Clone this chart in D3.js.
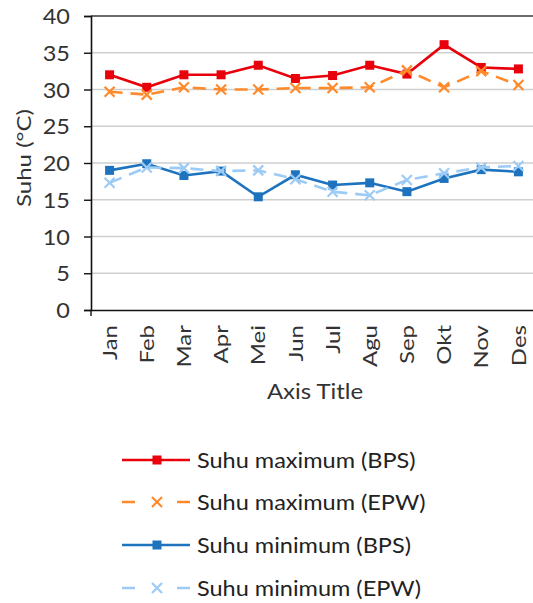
<!DOCTYPE html>
<html>
<head>
<meta charset="utf-8">
<script src="https://cdn.jsdelivr.net/npm/d3@7"></script>
<style>
  body { margin: 0; background: #fff; }
  svg { font-family: Lato, "Open Sans", sans-serif; }
</style>
</head>
<body>
<svg id="chart" width="533" height="603"></svg>
<script>
const months = ['Jan', 'Feb', 'Mar', 'Apr', 'Mei', 'Jun', 'Jul', 'Agu', 'Sep', 'Okt', 'Nov', 'Des']
const maxBps = [32.0, 30.3, 32.0, 32.0, 33.3, 31.5, 31.9, 33.3, 32.1, 36.1, 33.0, 32.8]
const maxEpw = [29.7, 29.3, 30.3, 30.0, 30.0, 30.2, 30.2, 30.3, 32.6, 30.3, 32.5, 30.6]
const minBps = [19.0, 19.9, 18.3, 18.9, 15.4, 18.4, 17.0, 17.3, 16.1, 17.9, 19.1, 18.8]
const minEpw = [17.3, 19.4, 19.3, 18.9, 19.0, 17.8, 16.1, 15.6, 17.7, 18.6, 19.4, 19.6]
const yTicks = [0, 5, 10, 15, 20, 25, 30, 35, 40]

const series = [
  { name: 'Suhu maximum (BPS)', values: maxBps, color: '#e8000b', dash: null, marker: 'square' },
  { name: 'Suhu maximum (EPW)', values: maxEpw, color: '#ff8a2b', dash: '13,8', marker: 'x' },
  { name: 'Suhu minimum (BPS)', values: minBps, color: '#1e73be', dash: null, marker: 'square' },
  { name: 'Suhu minimum (EPW)', values: minEpw, color: '#9ccbf5', dash: '13,8', marker: 'x' }
]

let svg = d3.select('#chart')
let x = d3.scaleBand().domain(months).range([91, 537])
let y = d3.scaleLinear().domain([0, 40]).range([310, 16])
let cx = d => x(d) + x.bandwidth() / 2

// gridlines
svg.append('g').selectAll('line').data(yTicks.filter(t => t > 0))
  .enter().append('line')
  .attr('x1', 91).attr('x2', 537)
  .attr('y1', d => y(d)).attr('y2', d => y(d))
  .attr('stroke', d => d === 40 ? '#3a3a3a' : '#cfcfcf')
  .attr('stroke-width', d => d === 40 ? 1.5 : 1.3)

// y axis
let yAxis = svg.append('g')
  .attr('transform', 'translate(91,0)')
  .call(d3.axisLeft(y).tickValues(yTicks).tickSize(7))
yAxis.select('.domain').attr('stroke', '#111').attr('stroke-width', 1.6)
yAxis.selectAll('.tick line').attr('stroke', '#111').attr('stroke-width', 1.4)
yAxis.selectAll('text')
  .attr('font-size', 21).attr('fill', '#333').attr('font-family', 'Lato')
  .attr('x', 0).attr('dy', '0.36em')
  .attr('transform', 'translate(-21,0) scale(1.12,1)')

// x axis
let xAxis = svg.append('g')
  .attr('transform', 'translate(0,310)')
  .call(d3.axisBottom(x).tickSize(0))
xAxis.select('.domain').attr('stroke', '#111').attr('stroke-width', 1.6)
xAxis.selectAll('text')
  .attr('font-size', 20).attr('fill', '#333').attr('font-family', 'Lato')
  .attr('text-anchor', 'end')
  .attr('x', 0).attr('y', 0).attr('dx', 0).attr('dy', '0.36em')
  .attr('transform', 'translate(0,15) rotate(-90) scale(1.2,1)')
svg.append('line').attr('x1', 91).attr('x2', 91).attr('y1', 310).attr('y2', 316)
  .attr('stroke', '#111').attr('stroke-width', 1.4)

// titles
svg.append('text').text('Axis Title')
  .attr('transform', 'translate(315,399) scale(1.14,1)').attr('text-anchor', 'middle')
  .attr('font-size', 21).attr('fill', '#333')
svg.append('text').text('Suhu (°C)')
  .attr('transform', 'translate(31,158) rotate(-90) scale(1.2,1)').attr('text-anchor', 'middle')
  .attr('font-size', 20).attr('fill', '#333')

let line = d3.line().x((d, i) => cx(months[i])).y(d => y(d))

function drawMarker (g, type, color, px, py) {
  if (type === 'square') {
    g.append('rect').attr('x', px - 4.5).attr('y', py - 4.5)
      .attr('width', 9).attr('height', 9).attr('fill', color)
  } else {
    let s = 5
    g.append('path')
      .attr('d', `M${px - s},${py - s}L${px + s},${py + s}M${px - s},${py + s}L${px + s},${py - s}`)
      .attr('stroke', color).attr('stroke-width', 2.2).attr('fill', 'none')
  }
}

series.forEach(s => {
  let g = svg.append('g')
  g.append('path').datum(s.values)
    .attr('d', line)
    .attr('fill', 'none')
    .attr('stroke', s.color)
    .attr('stroke-width', 2.6)
    .attr('stroke-dasharray', s.dash)
  s.values.forEach((v, i) => drawMarker(g, s.marker, s.color, cx(months[i]), y(v)))
})

// legend
let legendY = [460, 502, 545, 588]
series.forEach((s, i) => {
  let g = svg.append('g')
  let ly = legendY[i]
  g.append('line').attr('x1', 122).attr('x2', 190).attr('y1', ly).attr('y2', ly)
    .attr('stroke', s.color).attr('stroke-width', 2.6)
    .attr('stroke-dasharray', s.dash ? '13,42' : null)
  drawMarker(g, s.marker, s.color, 157, ly)
  g.append('text').text(s.name)
    .attr('transform', `translate(197,${ly}) scale(1.12,1)`).attr('dy', '0.36em')
    .attr('font-size', 21).attr('fill', '#222')
})
</script>
</body>
</html>
